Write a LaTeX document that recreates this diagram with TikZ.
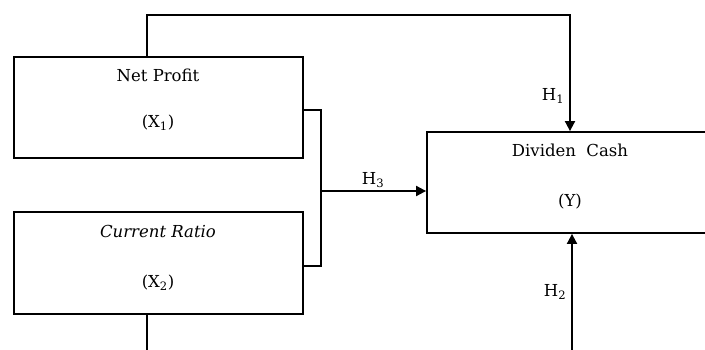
\documentclass[tikz,border=0pt]{standalone}
\usepackage{fontspec}
\setmainfont{DejaVu Serif}
\usetikzlibrary{arrows.meta}

\tikzset{
  box/.style={draw, line width=1.8pt, rectangle, inner sep=0pt},
  txt/.style={font=\fontsize{16.5}{20}\selectfont, inner sep=0pt},
  line/.style={line width=1.8pt},
  arr/.style={line width=1.8pt, -{Triangle[length=10pt,width=10pt]}}
}

\begin{document}
\begin{tikzpicture}[x=1pt, y=-1pt]
\clip (0,0) rectangle (705,350);
\node(x1)[box, minimum width=289pt, minimum height=101pt] at (158.5,107.5) {};
\node(x2)[box, minimum width=289pt, minimum height=102pt] at (158.5,263) {};
\node(y)[box, minimum width=286pt, minimum height=101pt] at (570,182.5) {};

\node(t1)[txt] at (158,75) {Net Profit};
\node(t2)[txt] at (158,123) {(X\textsubscript{1})};
\node(t3)[txt] at (158,231) {\itshape Current Ratio};
\node(t4)[txt] at (158,283) {(X\textsubscript{2})};
\node(t5)[txt] at (570,150) {Dividen\ \ Cash};
\node(t6)[txt] at (570,202) {(Y)};

\coordinate(top) at (147,15);
\coordinate(brk) at (321,191);
\coordinate(low1) at (147,360);
\coordinate(low2) at (572,360);

\draw[arr] (x1.north -| top) -- (top) -- (top -| y.north) -- (y.north);
\draw[line] (x1.east |- 0,110) -- (321,110) -- (321,266) -- (x2.east |- 0,266);
\draw[arr] (brk) -- (brk -| y.west);
\draw[line] (x2.south -| low1) -- (low1);
\draw[arr] (low2) -- (low2 |- y.south);

\node(h1)[txt] at (553,96) {H\textsubscript{1}};
\node(h3)[txt] at (373,180) {H\textsubscript{3}};
\node(h2)[txt] at (555,292) {H\textsubscript{2}};
\end{tikzpicture}
\end{document}
